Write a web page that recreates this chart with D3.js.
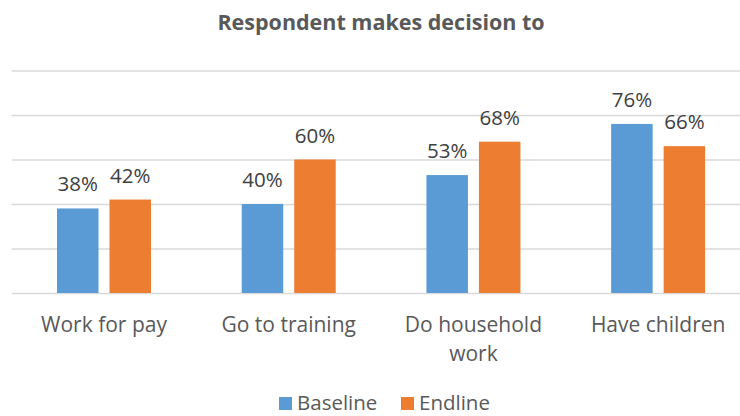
<!DOCTYPE html>
<html>
<head>
<meta charset="utf-8">
<script src="https://cdn.jsdelivr.net/npm/d3@7"></script>
<style>
  body { margin: 0; background: #fff; }
  svg { display: block; font-family: "Open Sans", sans-serif; }
  .grid line { stroke: #d9d9d9; stroke-width: 1.5; }
  .grid .domain { display: none; }
  .x-axis .domain { display: none; }
  .x-axis text { fill: #595959; font-size: 21px; font-family: "Open Sans", sans-serif; }
</style>
</head>
<body>
<svg id="chart"></svg>
<script>
const categories = ['Work for pay', 'Go to training', 'Do household work', 'Have children'];
const seriesNames = ['Baseline', 'Endline'];
const baseline = [38, 40, 53, 76];
const endline = [42, 60, 68, 66];
const gridTicks = [0, 20, 40, 60, 80, 100];
const colors = ['#5b9bd5', '#ed7d31'];

const WIDTH = 740;
const HEIGHT = 416;
const margin = { top: 70.5, bottom: 123, left: 11.65, right: -10.5 };
const width = WIDTH - margin.left - margin.right;
const height = HEIGHT - margin.top - margin.bottom;

const rows = categories.map((c, i) => ({ cat: c, values: [baseline[i], endline[i]] }));

const svg = d3.select('#chart').attr('width', WIDTH).attr('height', HEIGHT);

svg.append('text')
  .attr('x', 381)
  .attr('y', 30)
  .attr('text-anchor', 'middle')
  .attr('fill', '#595959')
  .attr('font-weight', 'bold')
  .attr('font-size', '21.5px')
  .text('Respondent makes decision to');

const g = svg.append('g').attr('transform', `translate(${margin.left},${margin.top})`);

const x0 = d3.scaleBand().domain(categories).range([0, width]);
const groupW = 94;
const x1 = d3.scaleBand().domain(seriesNames)
  .range([(x0.bandwidth() - groupW) / 2, (x0.bandwidth() + groupW) / 2])
  .paddingInner(0.2095);
const y = d3.scaleLinear().domain([0, 100]).range([height, 0]);

g.append('g')
  .attr('class', 'grid')
  .call(d3.axisLeft(y).tickValues(gridTicks).tickSize(-width).tickFormat(''));

const groups = g.selectAll('.group').data(rows).join('g')
  .attr('class', 'group')
  .attr('transform', d => `translate(${x0(d.cat)},0)`);

groups.selectAll('rect')
  .data(d => d.values.map((v, i) => ({ key: seriesNames[i], v, i })))
  .join('rect')
  .attr('x', d => x1(d.key))
  .attr('y', d => y(d.v))
  .attr('width', x1.bandwidth())
  .attr('height', d => height - y(d.v))
  .attr('fill', d => colors[d.i]);

groups.selectAll('.label')
  .data(d => d.values.map((v, i) => ({ key: seriesNames[i], v, i })))
  .join('text')
  .attr('class', 'label')
  .attr('x', d => x1(d.key) + x1.bandwidth() / 2)
  .attr('y', d => y(d.v) - 17)
  .attr('text-anchor', 'middle')
  .attr('fill', '#404040')
  .attr('font-size', '20.5px')
  .text(d => d.v + '%');

const xAxis = g.append('g')
  .attr('class', 'x-axis')
  .attr('transform', `translate(0,${height})`)
  .call(d3.axisBottom(x0).tickSize(0).tickPadding(0));

// wrap long category names like Excel does
xAxis.selectAll('.tick text').each(function () {
  const text = d3.select(this);
  const words = text.text().split(' ');
  text.text(null).attr('y', 0).attr('dy', null);
  let line = [];
  let lineNo = 0;
  let tspan = text.append('tspan').attr('x', 0).attr('y', 39);
  words.forEach(w => {
    line.push(w);
    tspan.text(line.join(' '));
    if (tspan.node().getComputedTextLength() > 160 && line.length > 1) {
      line.pop();
      tspan.text(line.join(' '));
      line = [w];
      lineNo += 1;
      tspan = text.append('tspan').attr('x', 0).attr('y', 39 + lineNo * 29).text(w);
    }
  });
});

const legend = svg.append('g');
const legendX = [279, 401];
seriesNames.forEach((name, i) => {
  legend.append('rect')
    .attr('x', legendX[i]).attr('y', 397)
    .attr('width', 13).attr('height', 13)
    .attr('fill', colors[i]);
  legend.append('text')
    .attr('x', legendX[i] + 18).attr('y', 410)
    .attr('fill', '#595959')
    .attr('font-size', '20.5px')
    .text(name);
});
</script>
</body>
</html>
